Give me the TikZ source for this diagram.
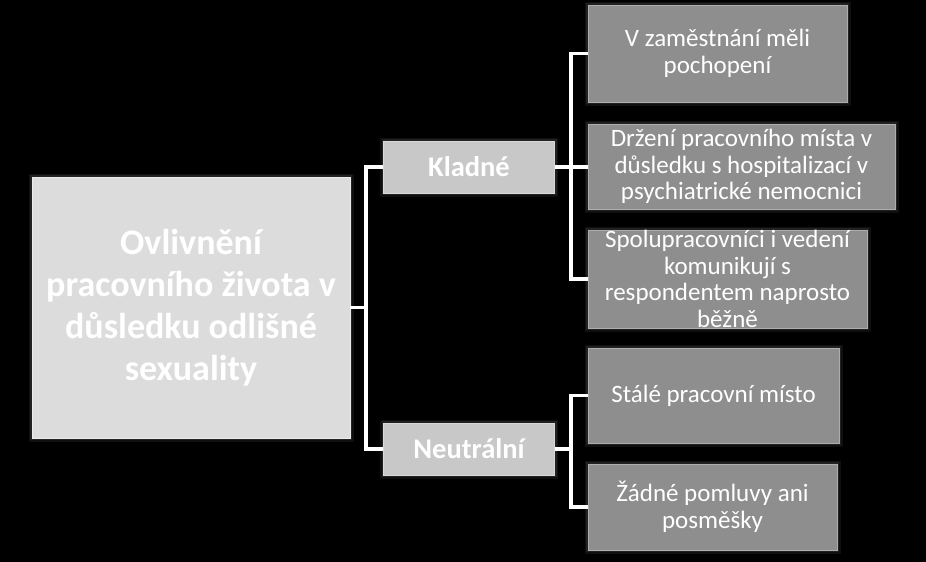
\documentclass[tikz,border=0pt]{standalone}
\usepackage{fontspec}
\setmainfont{Carlito}
\usetikzlibrary{calc}

\definecolor{rootgray}{RGB}{220,220,220}
\definecolor{midgray}{RGB}{200,200,200}
\definecolor{leafgray}{RGB}{142,142,142}

\tikzset{
  glow/.style={preaction={draw=white, draw opacity=0.06, line width=7pt},
               preaction={draw=white, draw opacity=0.08, line width=4pt}},
  rootbox/.style={rectangle, glow, fill=rootgray, draw=white!92!black, line width=0.8pt,
                  text=white, align=center, inner sep=0pt,
                  font=\fontsize{36}{42}\selectfont\bfseries},
  midbox/.style={rectangle, glow, fill=midgray, draw=white!85!black, line width=0.8pt,
                 text=white, align=center, inner sep=0pt,
                 font=\fontsize{28.5}{32}\selectfont\bfseries},
  leafbox/.style={rectangle, glow, fill=leafgray, draw=white!68!black, line width=0.8pt,
                  text=white, align=center, inner sep=0pt,
                  font=\fontsize{25}{26.5}\selectfont},
  conn/.style={draw=white, line width=3.5pt}
}

\begin{document}
\begin{tikzpicture}[x=1pt, y=-1pt]
    \fill[black] (0,0) rectangle (926,562);
    \useasboundingbox (0,0) rectangle (926,562);

    \node[rootbox, minimum width=318pt, minimum height=261pt](root) at (191.0, 307.5){Ovlivnění\\pracovního života v\\důsledku odlišné\\sexuality};

    \node[midbox, minimum width=171pt, minimum height=52pt](klad) at (469.0, 167.0){Kladné};
    \node[midbox, minimum width=171pt, minimum height=52pt](neut) at (469.0, 449.0){Neutrální};

    \node[leafbox, minimum width=259pt, minimum height=97pt](a1) at (717.5, 53.5){V zaměstnání měli\\pochopení};
    \node[leafbox, minimum width=307pt, minimum height=85pt](a2) at (741.5, 166.5){Držení pracovního místa v\\důsledku s hospitalizací v\\psychiatrické nemocnici};
    \node[leafbox, minimum width=279pt, minimum height=98pt](a3) at (727.5, 279.0){Spolupracovníci i vedení\\komunikují s\\respondentem naprosto\\běžně};

    \node[leafbox, minimum width=251pt, minimum height=95pt](b1) at (713.5, 395.5){Stálé pracovní místo};
    \node[leafbox, minimum width=249pt, minimum height=86pt](b2) at (712.5, 507.0){Žádné pomluvy ani\\posměšky};

    \coordinate (fork0) at (366, 307.5);
    \coordinate (fork1) at (571, 167.0);
    \coordinate (fork2) at (571, 449.0);

    \draw[conn] (root.east) -- (fork0);
    \draw[conn] (klad.west) -| (fork0) |- (neut.west);

    \draw[conn] (klad.east) -- (klad.east -| a2.west);
    \draw[conn] (a1.west) -| (fork1) |- (a3.west);

    \draw[conn] (neut.east) -- (fork2);
    \draw[conn] (b1.west) -| (fork2) |- (b2.west);
  \end{tikzpicture}
\end{document}
